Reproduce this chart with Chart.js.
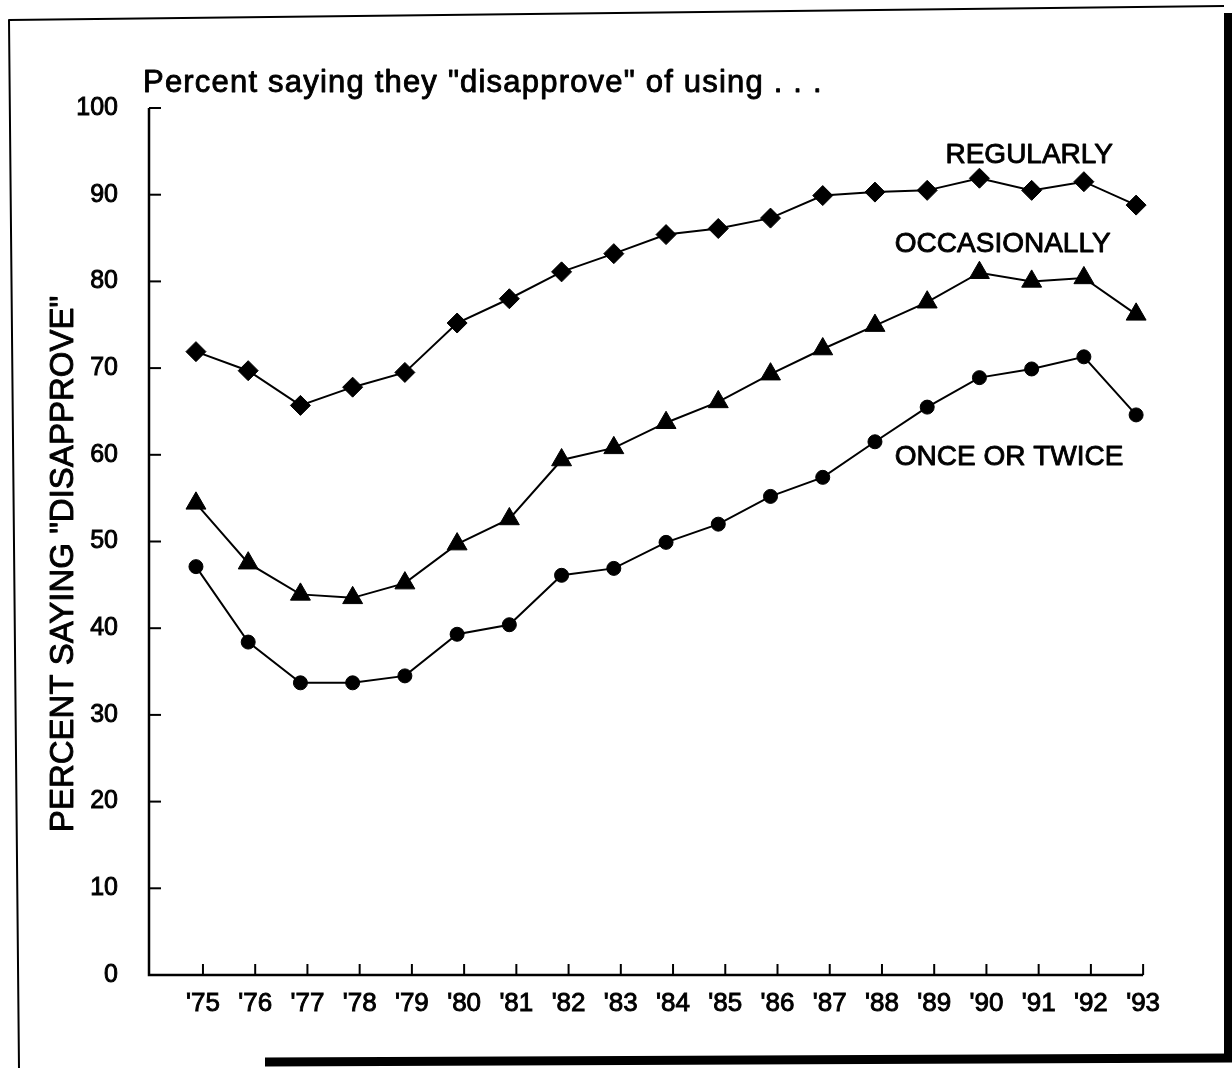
<!DOCTYPE html>
<html>
<head>
<meta charset="utf-8">
<script src="https://cdn.jsdelivr.net/npm/chart.js@4.4.1/dist/chart.umd.min.js"></script>
<style>
  html, body { margin: 0; padding: 0; background: #fff; }
  canvas { display: block; }
</style>
</head>
<body>
<canvas id="chart" width="1232" height="1068"></canvas>
<script>
// survey years ('75 .. '93)
const years = [1975, 1976, 1977, 1978, 1979, 1980, 1981, 1982, 1983, 1984,
               1985, 1986, 1987, 1988, 1989, 1990, 1991, 1992, 1993];

// percent saying they "disapprove" of using ...
const regularly    = [71.9, 69.7, 65.7, 67.8, 69.5, 75.2, 78.0, 81.1, 83.2, 85.4,
                      86.1, 87.3, 89.9, 90.3, 90.5, 91.9, 90.5, 91.5, 88.8];
const occasionally = [54.4, 47.5, 43.9, 43.5, 45.2, 49.7, 52.6, 59.4, 60.8, 63.7,
                      66.1, 69.3, 72.2, 74.9, 77.6, 81.0, 80.0, 80.4, 76.2];
const onceOrTwice  = [47.1, 38.4, 33.7, 33.7, 34.5, 39.3, 40.4, 46.1, 46.9, 49.9,
                      52.0, 55.2, 57.4, 61.5, 65.5, 68.9, 69.9, 71.3, 64.6];

const yTicks = [0, 10, 20, 30, 40, 50, 60, 70, 80, 90, 100];

const FONT = '"Liberation Sans", Arial, Helvetica, sans-serif';
const TICK_SHIFT = 7; // tick marks / labels sit a little right of the points in the original

function toPoints(values) {
  return years.map((yr, i) => ({ x: yr, y: values[i] }));
}

function lineSet(label, values, style, radius) {
  return {
    label: label,
    data: toPoints(values),
    borderColor: '#000',
    backgroundColor: '#000',
    borderWidth: 2,
    pointStyle: style,
    pointRadius: radius,
    pointBackgroundColor: '#000',
    pointBorderColor: '#000',
    pointBorderWidth: 1,
    tension: 0,
    clip: false
  };
}

// filled text with a thin outline, the print looks heavy in the scan
function heavyText(ctx, text, px, py) {
  ctx.fillText(text, px, py);
  ctx.strokeText(text, px, py);
}

// axes, tick marks, titles, series labels and the scanned frame
const decorations = {
  id: 'decorations',
  beforeDraw(chart) {
    const ctx = chart.ctx;
    ctx.save();
    ctx.fillStyle = '#fff';
    ctx.fillRect(0, 0, chart.width, chart.height);
    ctx.restore();
  },
  afterDraw(chart) {
    const ctx = chart.ctx;
    const area = chart.chartArea;
    const x = chart.scales.x;
    const y = chart.scales.y;
    ctx.save();
    ctx.strokeStyle = '#000';
    ctx.fillStyle = '#000';

    // axis lines
    const xEnd = x.getPixelForValue(years[years.length - 1]) + TICK_SHIFT;
    ctx.lineWidth = 2.5;
    ctx.beginPath();
    ctx.moveTo(area.left - 1, area.top);
    ctx.lineTo(area.left - 1, area.bottom);
    ctx.lineTo(xEnd, area.bottom);
    ctx.stroke();

    // y tick marks pointing in
    ctx.lineWidth = 2;
    yTicks.forEach(v => {
      const py = y.getPixelForValue(v);
      ctx.beginPath();
      ctx.moveTo(area.left - 1, py);
      ctx.lineTo(area.left + 11, py);
      ctx.stroke();
    });

    // x tick marks pointing up
    years.forEach(yr => {
      const px = x.getPixelForValue(yr) + TICK_SHIFT;
      ctx.beginPath();
      ctx.moveTo(px, area.bottom);
      ctx.lineTo(px, area.bottom - 11);
      ctx.stroke();
    });

    ctx.lineWidth = 0.9;
    ctx.lineJoin = 'round';

    // chart title
    ctx.font = '31px ' + FONT;
    ctx.letterSpacing = '1.2px';
    ctx.textAlign = 'left';
    ctx.textBaseline = 'alphabetic';
    heavyText(ctx, 'Percent saying they "disapprove" of using . . .', 143, 92);
    ctx.letterSpacing = '0px';

    // y axis title
    ctx.save();
    ctx.translate(73, 564);
    ctx.rotate(-Math.PI / 2);
    ctx.font = '33px ' + FONT;
    ctx.textAlign = 'center';
    heavyText(ctx, 'PERCENT SAYING "DISAPPROVE"', 0, 0);
    ctx.restore();

    // series labels
    ctx.font = '28px ' + FONT;
    ctx.textAlign = 'left';
    heavyText(ctx, 'REGULARLY', x.getPixelForValue(1989.35), y.getPixelForValue(93.65));
    heavyText(ctx, 'OCCASIONALLY', x.getPixelForValue(1988.38), y.getPixelForValue(83.4));
    heavyText(ctx, 'ONCE OR TWICE', x.getPixelForValue(1988.38), y.getPixelForValue(58.8));

    // frame left over from the scan
    ctx.lineWidth = 2;
    ctx.beginPath();
    ctx.moveTo(19, 1068);
    ctx.lineTo(9, 20);
    ctx.lineTo(1224, 6);
    ctx.stroke();
    ctx.fillRect(1224, 13, 8, 1045);
    ctx.beginPath();
    ctx.moveTo(265, 1062);
    ctx.lineTo(1232, 1058);
    ctx.lineWidth = 9;
    ctx.stroke();

    ctx.restore();
  }
};

const ctx = document.getElementById('chart').getContext('2d');
new Chart(ctx, {
  type: 'line',
  data: {
    datasets: [
      lineSet('Regularly', regularly, 'rectRot', 10),
      lineSet('Occasionally', occasionally, 'triangle', 11.5),
      lineSet('Once or twice', onceOrTwice, 'circle', 7)
    ]
  },
  options: {
    responsive: false,
    animation: false,
    layout: { padding: { top: 108, right: 87, left: 0, bottom: 0 } },
    plugins: {
      legend: { display: false },
      tooltip: { enabled: false }
    },
    scales: {
      x: {
        type: 'linear',
        bounds: 'data',
        min: 1974.12,
        max: 1993.17,
        grid: { display: false, drawTicks: false },
        border: { display: false },
        afterBuildTicks: scale => { scale.ticks = years.map(v => ({ value: v })); },
        afterFit: scale => { scale.height = 93; },
        ticks: {
          callback: v => "'" + String(v).slice(2),
          font: { family: FONT, size: 26 },
          color: '#000',
          textStrokeColor: '#000',
          textStrokeWidth: 0.9,
          padding: 13,
          labelOffset: TICK_SHIFT,
          maxRotation: 0,
          autoSkip: false
        }
      },
      y: {
        min: 0,
        max: 100,
        grid: { display: false, drawTicks: false },
        border: { display: false },
        afterBuildTicks: scale => { scale.ticks = yTicks.map(v => ({ value: v })); },
        afterFit: scale => { scale.width = 150; },
        ticks: {
          font: { family: FONT, size: 25 },
          color: '#000',
          textStrokeColor: '#000',
          textStrokeWidth: 0.9,
          padding: 32
        }
      }
    }
  },
  plugins: [decorations]
});
</script>
</body>
</html>
